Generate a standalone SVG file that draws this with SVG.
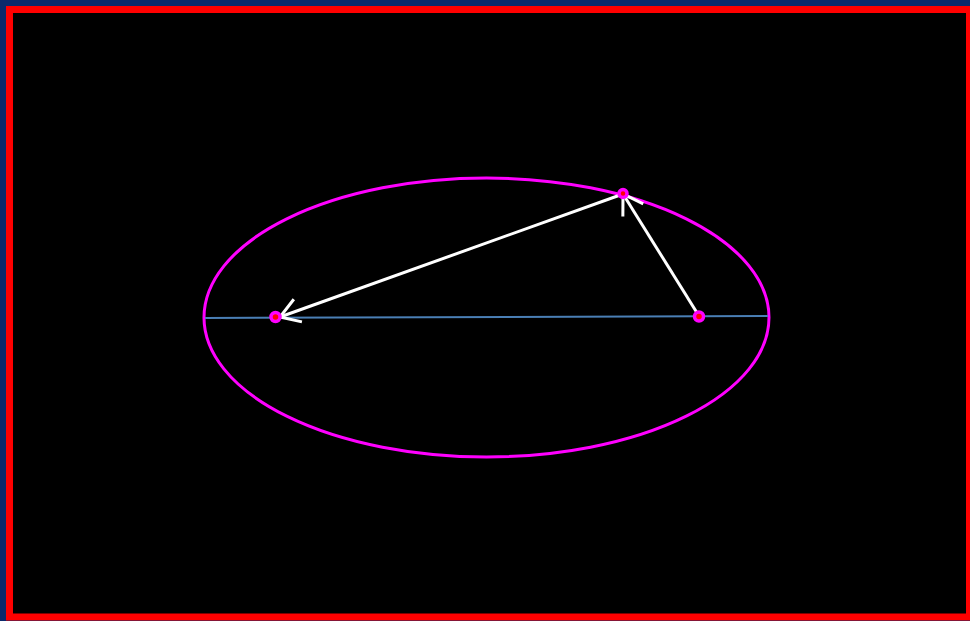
<svg xmlns="http://www.w3.org/2000/svg" width="970" height="621" viewBox="0 0 970 621">
<style>
.ell{fill:none;stroke:#ff00ff;stroke-width:3}
.axis{stroke:#4a7fb5;stroke-width:2}
.ray{stroke:#ffffff;stroke-width:3;fill:none}
.pt{fill:#ff0000;stroke:#ff00ff;stroke-width:3.5}
</style>
<defs>
<marker id="arr" markerUnits="userSpaceOnUse" markerWidth="30" markerHeight="30" refX="22" refY="15" orient="auto" viewBox="0 0 30 30" overflow="visible">
<path d="M3,3 L22,15 L3,27" fill="none" stroke="#ffffff" stroke-width="3"/>
</marker>
</defs>
<rect x="0" y="0" width="970" height="621" fill="#0c2a6c"/>
<rect x="9.5" y="9.5" width="960" height="607.5" fill="#000000" stroke="#ff0000" stroke-width="7"/>
<g id="ellipse"><ellipse class="ell" cx="486.5" cy="317.5" rx="282.5" ry="139.5"/></g>
<g id="connectors">
<line class="axis" x1="205" y1="318" x2="768" y2="316"/>
<line class="ray" x1="699" y1="316" x2="623" y2="194" marker-end="url(#arr)"/>
<line class="ray" x1="623" y1="194" x2="280" y2="317" marker-end="url(#arr)"/>
</g>
<g id="focus1"><circle class="pt" cx="275.5" cy="317" r="4.5"/></g>
<g id="focus2"><circle class="pt" cx="699" cy="316.5" r="4.5"/></g>
<g id="point"><circle class="pt" cx="623" cy="193.5" r="4"/></g>
</svg>
